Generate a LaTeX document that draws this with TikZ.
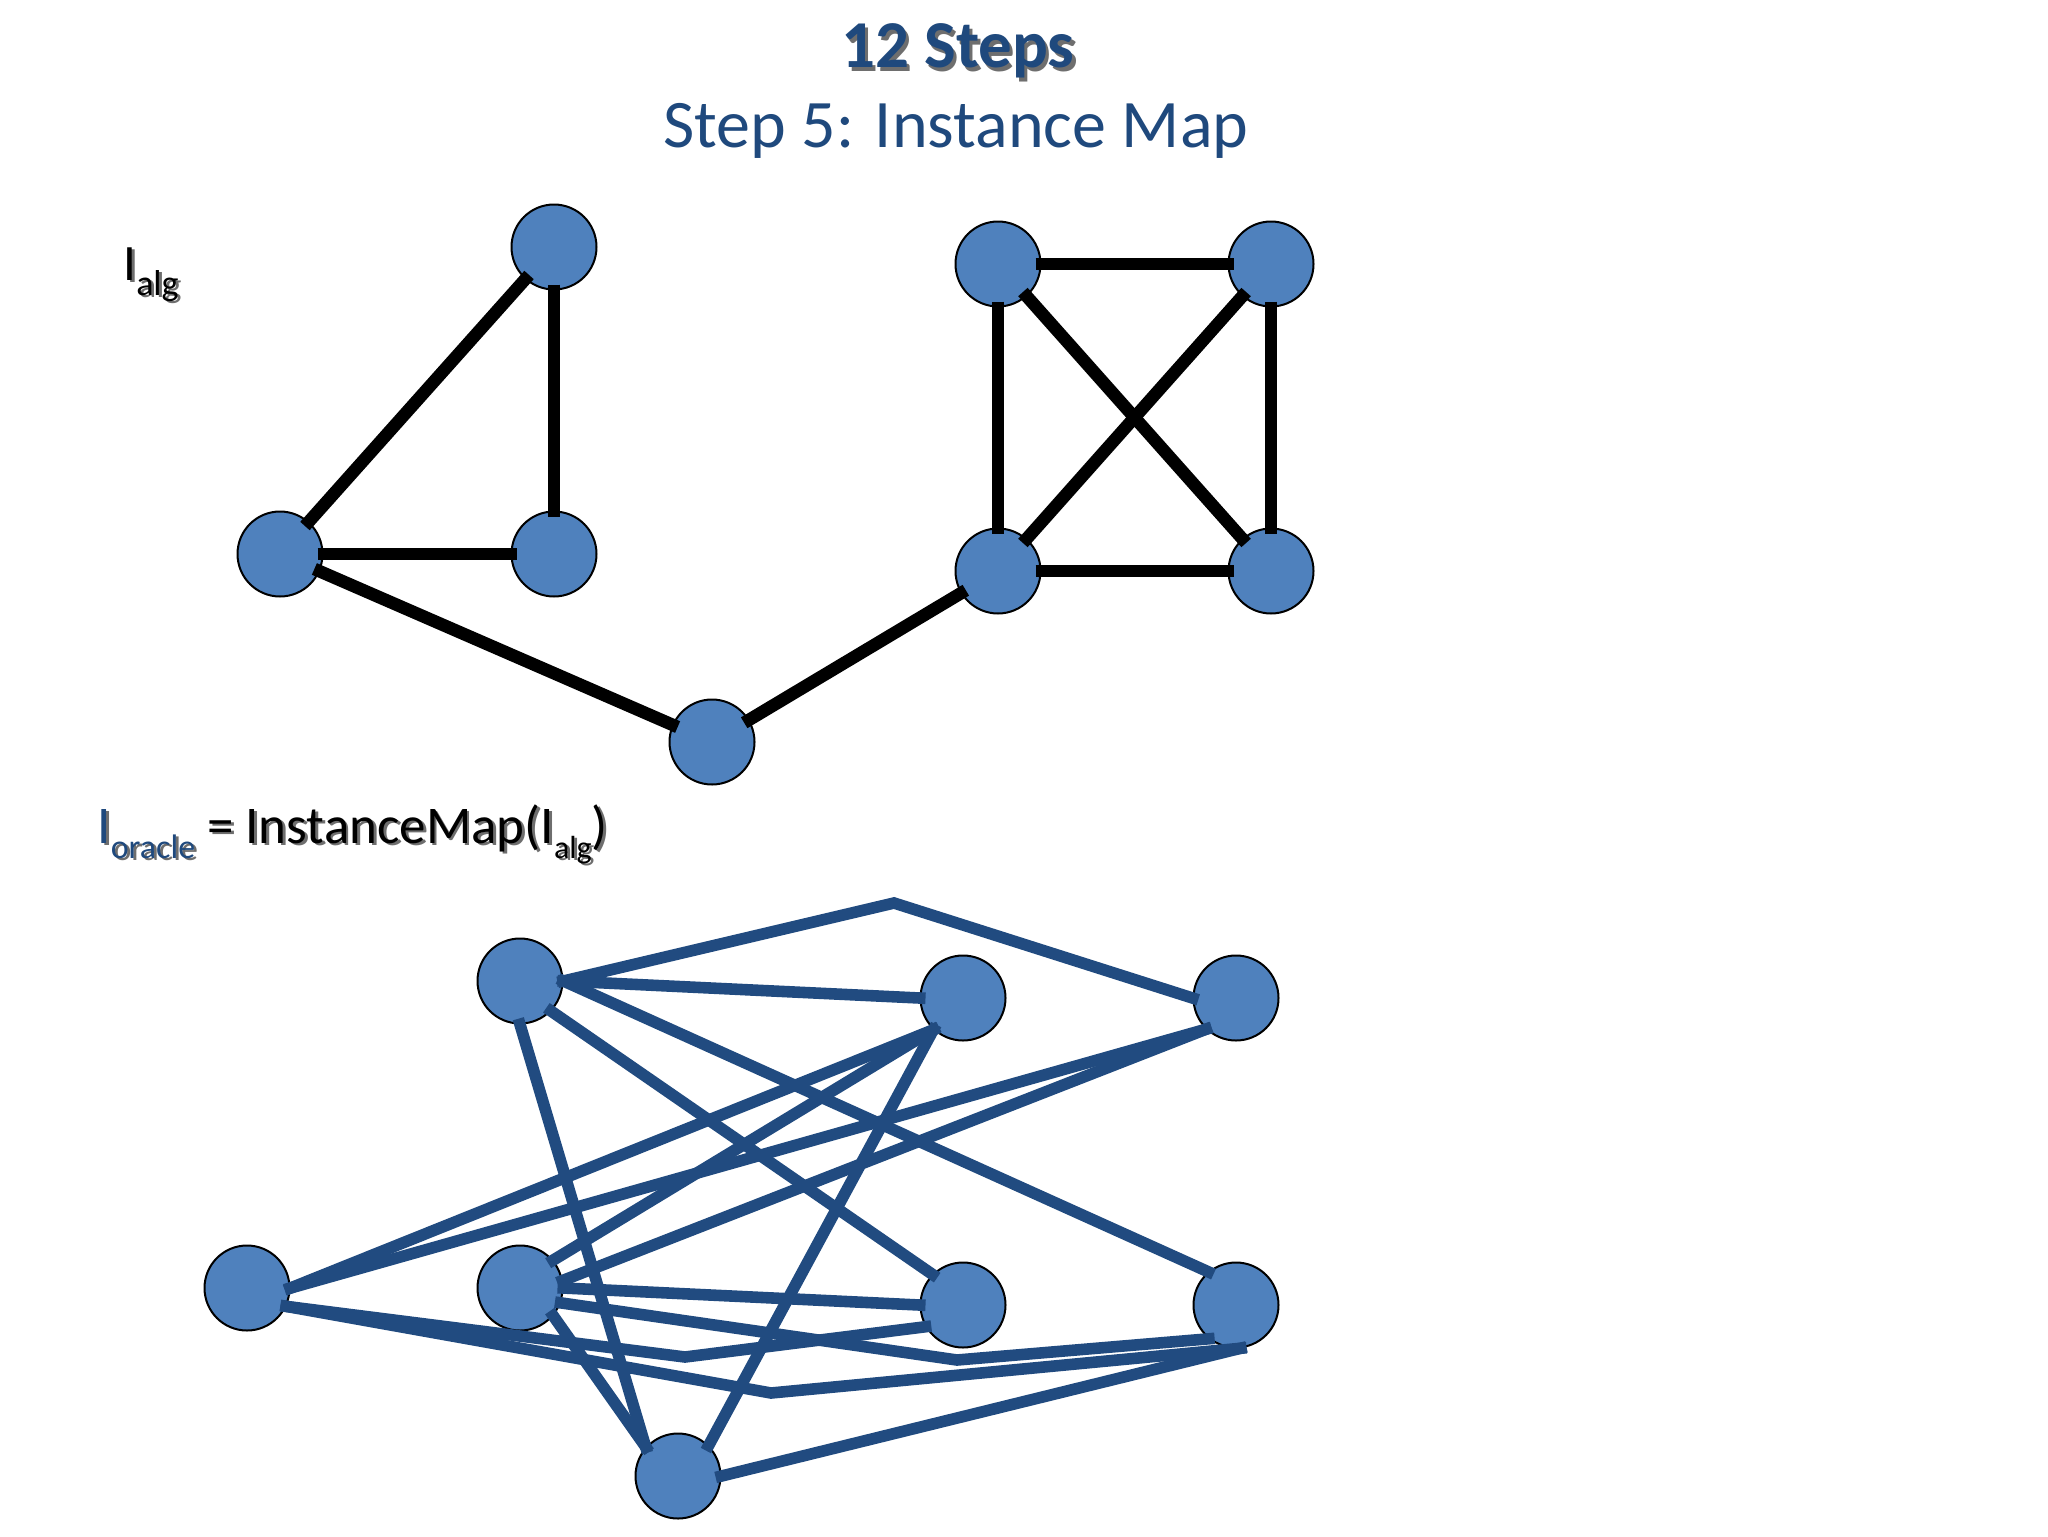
\documentclass[tikz,border=0pt]{standalone}
\usepackage{fontspec}
\setmainfont{Carlito}
\definecolor{titleblue}{RGB}{31,73,125}
\definecolor{nodefill}{RGB}{79,129,189}
\definecolor{edgeblue}{RGB}{33,75,128}
\definecolor{shadowc}{RGB}{110,110,110}
\newcommand\tcol[1]{\color{#1}}
\newcommand\nocol[1]{}
\newcommand\shtext[2]{\rlap{\hspace{#1}\raisebox{-#1}{\let\tcol\nocol\color{shadowc}#2}}#2}
\newcommand\subs[2]{\raisebox{-7.5pt}{\fontsize{#1}{#1}\selectfont #2}}
\tikzset{
  vtx/.style={circle, draw=black, line width=1pt, fill=nodefill, minimum size=42.5pt, inner sep=0pt},
  algedge/.style={line width=6.3pt, black, shorten <=-3pt, shorten >=-3pt},
  orcedge/.style={line width=5.8pt, edgeblue, shorten <=-3pt, shorten >=-3pt, line join=miter},
}
\begin{document}
\begin{tikzpicture}[x=0.5pt, y=-0.5pt]
\useasboundingbox (0,0) rectangle (2048,1536);
\fill[white] (0,0) rectangle (2048,1536);
% titles
\node[anchor=base, font=\fontsize{33.5}{40}\selectfont\bfseries, text=titleblue, inner sep=0pt] (title) at (958,68) {\shtext{1.6pt}{12 Steps}};
\node[anchor=base, font=\fontsize{34}{40}\selectfont, text=titleblue, inner sep=0pt] (subtitle) at (956,148) {Step 5: Instance Map};
% labels
\node[anchor=base west, font=\fontsize{25.5}{30}\selectfont, inner sep=0pt] (ialg) at (123,280) {\shtext{1.4pt}{I\subs{18}{alg}}};
\node[anchor=base west, font=\fontsize{26.5}{30}\selectfont, inner sep=0pt] (imap) at (97,843) {\shtext{1.4pt}{{\tcol{titleblue}I\subs{17}{oracle}} = InstanceMap(I\subs{16}{alg})}};
% upper graph
\node[vtx] (a) at (554,247) {};
\node[vtx] (b) at (280,554) {};
\node[vtx] (c) at (554,554) {};
\node[vtx] (d) at (712,742) {};
\node[vtx] (e) at (998,264) {};
\node[vtx] (f) at (1271,264) {};
\node[vtx] (g) at (998,571) {};
\node[vtx] (h) at (1271,571) {};
\foreach \u/\v in {a/b, a/c, b/c, b/d, d/g, e/f, e/g, e/h, f/g, f/h, g/h}
  \draw[algedge] (\u) -- (\v);
% lower graph
\node[vtx] (p1) at (520,981) {};
\node[vtx] (p2) at (963,998) {};
\node[vtx] (p3) at (1236,998) {};
\node[vtx] (q1) at (247,1288) {};
\node[vtx] (q2) at (520,1288) {};
\node[vtx] (q3) at (963,1305) {};
\node[vtx] (q4) at (1236,1305) {};
\node[vtx] (r) at (678,1476) {};
\coordinate (k1) at (894,903);
\coordinate (k2) at (685,1357);
\coordinate (k3) at (771,1393);
\coordinate (k4) at (957,1360);
\draw[orcedge] (p1.east) -- (p2.west);
\draw[orcedge] (p1.-44) -- (q3.135);
\draw[orcedge] (p1.east) -- (q4.130);
\draw[orcedge] (p1.south) -- (r.138);
\draw[orcedge] (q1.east) -- (p2.227);
\draw[orcedge] (q2.40) -- (p2.227);
\draw[orcedge] (r.45) -- (p2.227);
\draw[orcedge] (q1.east) -- (p3.226);
\draw[orcedge] (q2.10) -- (p3.226);
\draw[orcedge] (q2.east) -- (q3.west);
\draw[orcedge] (q2.-40) -- (r.138);
\draw[orcedge] (r.east) -- (q4.-84);
\draw[orcedge] (p1.east) -- (k1) -- (p3.west);
\draw[orcedge] (q1.-25) -- (k2) -- (q3.210);
\draw[orcedge] (q1.-25) -- (k3) -- (q4.-84);
\draw[orcedge] (q2.-20) -- (k4) -- (q4.231);
\end{tikzpicture}
\end{document}
